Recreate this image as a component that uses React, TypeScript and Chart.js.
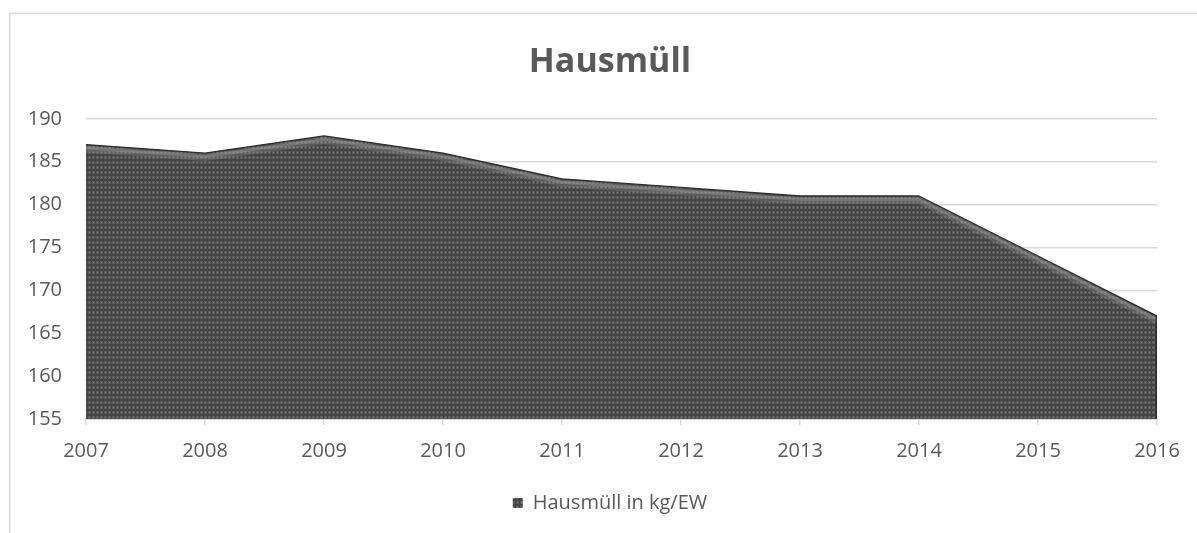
import React, { useEffect, useRef } from "react";
import { Chart, registerables } from "chart.js";

Chart.register(...registerables);

const years = ["2007", "2008", "2009", "2010", "2011", "2012", "2013", "2014", "2015", "2016"];
const hausmuell = [187, 186, 188, 186, 183, 182, 181, 181, 174, 167];
const seriesLabel = "Hausmüll in kg/EW";
const chartTitle = "Hausmüll";
const yMin = 155;
const yMax = 190;
const yStep = 5;

const W = 1220;
const H = 533;

function makePattern(): CanvasPattern | string {
  const c = document.createElement("canvas");
  c.width = 4;
  c.height = 5;
  const x = c.getContext("2d");
  if (!x) return "#454545";
  x.fillStyle = "#444444";
  x.fillRect(0, 0, 4, 5);
  x.fillStyle = "#5a5a5a";
  x.fillRect(0, 1, 3, 3);
  x.fillStyle = "#7e7e7e";
  x.fillRect(1, 2, 1, 1);
  const main = document.createElement("canvas").getContext("2d");
  const p = main ? main.createPattern(c, "repeat") : null;
  return p || "#454545";
}

const framePlugin = {
  id: "frame",
  beforeDraw(chart: any) {
    const ctx = chart.ctx;
    ctx.save();
    ctx.fillStyle = "#ffffff";
    ctx.fillRect(0, 0, chart.width, chart.height);
    ctx.strokeStyle = "#d9d9d9";
    ctx.lineWidth = 1.5;
    ctx.beginPath();
    ctx.moveTo(9.75, chart.height);
    ctx.lineTo(9.75, 13.25);
    ctx.lineTo(1211, 13.25);
    ctx.stroke();
    ctx.restore();
  },
};

const bevelPlugin = {
  id: "bevel",
  afterDatasetsDraw(chart: any) {
    const meta = chart.getDatasetMeta(0);
    const pts = meta.data;
    const area = chart.chartArea;
    const ctx = chart.ctx;
    ctx.save();
    ctx.beginPath();
    ctx.rect(area.left, area.top - 5, area.right - area.left, area.bottom - area.top + 5);
    ctx.clip();
    ctx.lineJoin = "round";
    ctx.beginPath();
    pts.forEach((p: any, i: number) => (i ? ctx.lineTo(p.x, p.y + 4.5) : ctx.moveTo(p.x, p.y + 4.5)));
    ctx.strokeStyle = "rgba(150,150,150,0.30)";
    ctx.lineWidth = 7;
    ctx.stroke();
    ctx.beginPath();
    pts.forEach((p: any, i: number) => (i ? ctx.lineTo(p.x, p.y + 3.5) : ctx.moveTo(p.x, p.y + 3.5)));
    ctx.strokeStyle = "rgba(175,175,175,0.30)";
    ctx.lineWidth = 3;
    ctx.stroke();
    ctx.beginPath();
    pts.forEach((p: any, i: number) => (i ? ctx.lineTo(p.x, p.y) : ctx.moveTo(p.x, p.y)));
    ctx.strokeStyle = "#2e2e2e";
    ctx.lineWidth = 1.3;
    ctx.stroke();
    const last = pts[pts.length - 1];
    ctx.beginPath();
    ctx.moveTo(last.x - 0.5, last.y);
    ctx.lineTo(last.x - 0.5, area.bottom);
    ctx.strokeStyle = "#2a2a2a";
    ctx.lineWidth = 1.5;
    ctx.stroke();
    ctx.restore();
  },
};

export default function App() {
  const ref = useRef<HTMLCanvasElement | null>(null);

  useEffect(() => {
    if (!ref.current) return;
    Chart.defaults.font.family = "'Open Sans', sans-serif";
    const pattern = makePattern();
    const chart = new Chart(ref.current, {
      type: "line",
      data: {
        labels: years,
        datasets: [
          {
            label: seriesLabel,
            data: hausmuell,
            fill: "start",
            backgroundColor: pattern as any,
            borderColor: "#2e2e2e",
            borderWidth: 0,
            pointRadius: 0,
            tension: 0,
            yAxisID: "y",
          },
        ],
      },
      options: {
        responsive: false,
        animation: false,
        layout: { padding: { left: 9, top: 13, right: 9, bottom: 10 } },
        plugins: {
          title: {
            display: true,
            text: chartTitle,
            color: "#595959",
            font: { size: 34, weight: "bold" },
            padding: { top: 29, bottom: 36 },
          },
          legend: {
            display: true,
            position: "bottom",
            labels: {
              color: "#595959",
              font: { size: 20 },
              boxWidth: 10,
              boxHeight: 10,
            },
          },
          tooltip: { enabled: false },
        },
        scales: {
          x: {
            offset: false,
            z: 1,
            grid: {
              display: true,
              drawOnChartArea: false,
              drawTicks: true,
              tickLength: 6,
              color: "#d9d9d9",
              lineWidth: 1.5,
            },
            border: { display: true, color: "#d9d9d9", width: 2 },
            ticks: { color: "#595959", font: { size: 20 }, padding: 14, maxRotation: 0 },
            afterFit: (scale: any) => {
              scale.height = 64;
            },
          },
          y: {
            min: yMin,
            max: yMax,
            grid: { color: "#d9d9d9", lineWidth: 1.5, drawTicks: false },
            border: { display: false },
            ticks: { stepSize: yStep, color: "#595959", font: { size: 20 }, padding: 24 },
            afterFit: (scale: any) => {
              scale.width = 77;
            },
          },
          ySpacer: {
            position: "right",
            min: yMin,
            max: yMax,
            grid: { display: false, drawTicks: false },
            border: { display: false },
            ticks: { display: false },
            afterFit: (scale: any) => {
              scale.width = 54;
            },
          },
        },
      },
      plugins: [framePlugin, bevelPlugin],
    });
    return () => chart.destroy();
  }, []);

  return (
    <div style={{ position: "absolute", left: 0, top: 0, width: 1197, height: 533, overflow: "hidden", background: "#fff" }}>
      <canvas ref={ref} width={W} height={H} style={{ display: "block", width: W, height: H }} />
    </div>
  );
}
